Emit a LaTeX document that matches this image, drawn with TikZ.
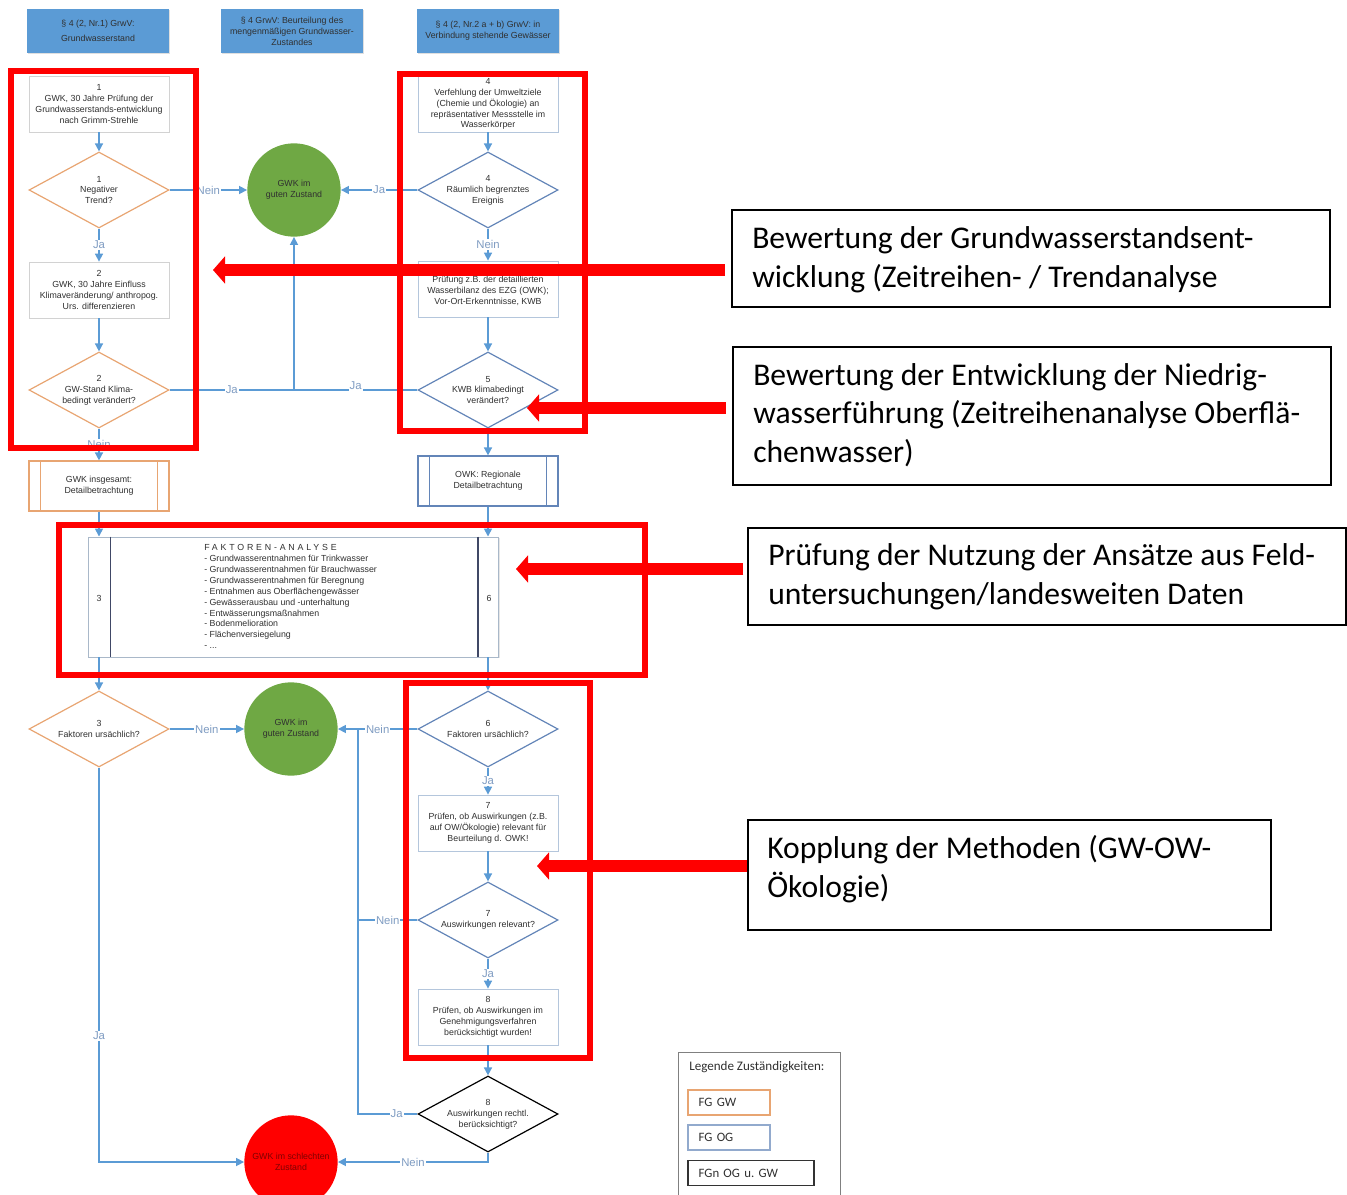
\documentclass[tikz,border=0pt]{standalone}
\usepackage{fontspec}
\setmainfont{Liberation Sans}
\newfontfamily\calibri{Carlito}
\usetikzlibrary{shapes.geometric,arrows.meta,shadows,positioning}

\definecolor{flowblue}{HTML}{5B9BD5}
\definecolor{lblblue}{HTML}{7F9CC2}
\definecolor{hdrblue}{HTML}{5B9BD5}
\definecolor{orangeb}{HTML}{E8A572}
\definecolor{blueb}{HTML}{6385B8}
\definecolor{boxgray}{HTML}{D2D2D2}
\definecolor{boxblue}{HTML}{B4C6DC}
\definecolor{okgreen}{HTML}{6FA844}
\definecolor{txtgray}{HTML}{303030}
\definecolor{navyline}{HTML}{404866}

\newcommand{\fctxt}{\fontsize{6.6}{8.2}\selectfont}

\tikzset{
	txt/.style={font=\fctxt, text=txtgray, align=center},
	procbox/.style={txt, rectangle, draw=#1, line width=0.6pt, fill=white, minimum width=105pt, minimum height=42pt, inner sep=1pt,
		drop shadow={shadow xshift=0.8pt, shadow yshift=-0.8pt, opacity=0.2}},
	decision/.style={txt, diamond, draw=#1, line width=0.9pt, fill=white, aspect=1.84, minimum width=105pt, minimum height=57pt, inner sep=0pt},
	subproc/.style={txt, rectangle, draw=#1, line width=0.9pt, fill=white, minimum width=105pt, minimum height=37.5pt},
	state/.style={txt, circle, fill=#1, minimum size=70pt, inner sep=0pt},
	hdr/.style={txt, rectangle, fill=hdrblue, minimum width=106pt, minimum height=33pt, inner sep=1pt,
		drop shadow={shadow xshift=0.8pt, shadow yshift=-0.8pt, opacity=0.25}},
	flow/.style={draw=flowblue, line width=1.2pt, -{Triangle[width=6pt,length=6pt]}},
	link/.style={draw=flowblue, line width=1.2pt},
	lbl/.style={font=\fontsize{8.5}{10}\selectfont, text=lblblue, fill=white, inner sep=0.8pt},
	redframe/.style={draw=red, line width=3.8pt},
	redarrow/.style={draw=red, line width=9pt, -{Triangle[width=20pt,length=9pt]}},
	callbox/.style={rectangle, draw=black, line width=1.1pt},
	calltxt/.style={font=\calibri\fontsize{23.7}{29}\selectfont, align=left, anchor=west, inner sep=0pt},
	legbox/.style={rectangle, line width=0.9pt, font=\calibri\fontsize{9.6}{11}\selectfont, text=txtgray, align=left, inner xsep=8pt, minimum height=18.75pt}
}

\begin{document}
\begin{tikzpicture}[x=0.75pt,y=-0.75pt]
	\useasboundingbox (0,0) rectangle (1347,1195);

	\node[hdr] (h1) at (98,31) {§ 4 (2, Nr.1) GrwV:\\[3pt]Grundwasserstand};
	\node[hdr] (h2) at (292,31) {§ 4 GrwV: Beurteilung des\\mengenmäßigen Grundwasser-\\Zustandes};
	\node[hdr] (h3) at (488,31) {§ 4 (2, Nr.2 a + b) GrwV: in\\Verbindung stehende Gewässer};

	\node[procbox=boxgray] (b1) at (99,104) {1\\GWK, 30 Jahre Prüfung der\\Grundwasserstands-entwicklung\\nach Grimm-Strehle};
	\node[decision=orangeb] (d1) at (99,190) {1\\Negativer\\Trend?};
	\node[procbox=boxgray] (b2) at (99,290) {2\\GWK, 30 Jahre Einfluss\\Klimaveränderung/ anthropog.\\Urs. differenzieren};
	\node[decision=orangeb] (d2) at (99,390) {2\\GW-Stand Klima-\\bedingt verändert?};
	\node[subproc=orangeb] (b3) at (99,486) {GWK insgesamt:\\Detailbetrachtung};
	\draw[orangeb, line width=0.9pt] ([xshift=9pt]b3.north west) -- ([xshift=9pt]b3.south west)
		([xshift=-9pt]b3.north east) -- ([xshift=-9pt]b3.south east);

	\node[procbox=boxblue] (b4) at (488,104) {4\\Verfehlung der Umweltziele\\(Chemie und Ökologie) an\\repräsentativer Messstelle im\\Wasserkörper};
	\node[decision=blueb] (d4) at (488,190) {4\\Räumlich begrenztes\\Ereignis};
	\node[procbox=boxblue] (b5) at (488,289) {~\\Prüfung z.B. der detaillierten\\Wasserbilanz des EZG (OWK);\\Vor-Ort-Erkenntnisse, KWB};
	\node[decision=blueb] (d5) at (488,390) {5\\KWB klimabedingt\\verändert?};
	\node[subproc=blueb] (b6) at (488,481) {OWK: Regionale\\Detailbetrachtung};
	\draw[blueb, line width=0.9pt] ([xshift=9pt]b6.north west) -- ([xshift=9pt]b6.south west)
		([xshift=-9pt]b6.north east) -- ([xshift=-9pt]b6.south east);

	\node[state=okgreen] (g1) at (294,190) {GWK im\\guten Zustand};
	\coordinate (j1) at (294,390);

	% Faktoren-Analyse
	\node[rectangle, draw=boxblue!80!gray, line width=0.7pt, fill=white, minimum width=308pt, minimum height=90pt,
		drop shadow={shadow xshift=0.8pt, shadow yshift=-0.8pt, opacity=0.2}] (fa) at (293.5,597) {};
	\draw[navyline, line width=0.8pt] ([xshift=17pt]fa.north west) -- ([xshift=17pt]fa.south west)
		([xshift=-16pt]fa.north east) -- ([xshift=-16pt]fa.south east);
	\node[txt] (fa3) at (99,598) {3};
	\node[txt] (fa6) at (489,598) {6};
	\node[txt, align=left, anchor=north west, inner sep=0pt] (falist) at (204,544)
		{{\addfontfeature{LetterSpace=32}FAKTOREN-ANALYSE}\\
		- Grundwasserentnahmen für Trinkwasser\\
		- Grundwasserentnahmen für Brauchwasser\\
		- Grundwasserentnahmen für Beregnung\\
		- Entnahmen aus Oberflächengewässer\\
		- Gewässerausbau und -unterhaltung\\
		- Entwässerungsmaßnahmen\\
		- Bodenmelioration\\
		- Flächenversiegelung\\
		- ...};

	\node[decision=orangeb] (d3) at (99,729) {3\\Faktoren ursächlich?};
	\node[state=okgreen] (g2) at (291,729) {GWK im\\guten Zustand};
	\node[decision=blueb] (d6) at (488,729) {6\\Faktoren ursächlich?};
	\node[procbox=boxblue] (b7) at (488,823) {7\\Prüfen, ob Auswirkungen (z.B.\\auf OW/Ökologie) relevant für\\Beurteilung d. OWK!};
	\node[decision=blueb] (d7) at (488,920) {7\\Auswirkungen relevant?};
	\node[procbox=boxblue] (b8) at (488,1017) {8\\Prüfen, ob Auswirkungen im\\Genehmigungsverfahren\\berücksichtigt wurden!};
	\node[decision=black] (d8) at (488,1114) {8\\Auswirkungen rechtl.\\berücksichtigt?};
	\node[state=red, text=red!50!black] (rc) at (291,1162) {GWK im schlechten\\Zustand};
	\coordinate (k6) at (358,729);
	\coordinate (k7) at (358,920);
	\coordinate (k8) at (358,1114);

	\draw[flow] (b1) -- (d1);
	\draw[flow] (d1) -- node[lbl]{Ja} (b2);
	\draw[flow] (b2) -- (d2);
	\draw[flow] (d2) -- node[lbl]{Nein} (b3);
	\draw[flow] (d1) -- node[lbl]{Nein} (g1);
	\draw[flow] (d4) -- node[lbl]{Ja} (g1);
	\draw[link] (d2) -- node[lbl]{Ja} (j1);
	\draw[link] (d5) -- node[lbl, yshift=3pt]{Ja} (j1);
	\draw[flow] (j1) -- (g1);
	\draw[flow] (b4) -- (d4);
	\draw[flow] (d4) -- node[lbl]{Nein} (b5);
	\draw[flow] (b5) -- (d5);
	\draw[flow] (d5) -- (b6);
	\draw[flow] (b3) -- (b3 |- fa.north);
	\draw[flow] (b6) -- (b6 |- fa.north);
	\draw[flow] (fa.south -| d3) -- (d3);
	\draw[flow] (fa.south -| d6) -- (d6);
	\draw[flow] (d3) -- node[lbl]{Nein} (g2);
	\draw[flow] (d6) -- node[lbl]{Nein} (g2);
	\draw[flow] (d6) -- node[lbl]{Ja} (b7);
	\draw[flow] (b7) -- (d7);
	\draw[flow] (d7) -- node[lbl]{Ja} (b8);
	\draw[flow] (b8) -- (d8);
	\draw[link] (d7) -- node[lbl]{Nein} (k7);
	\draw[link] (d8) -- node[lbl, pos=0.35]{Ja} (k8) -- (k6);
	\draw[flow] (d8) |- node[lbl, pos=0.75]{Nein} (rc);
	\draw[flow] (d3) |- node[lbl, pos=0.34]{Ja} (rc);

	% rote Markierungen
	\draw[redframe] (11,71) rectangle (196,448);
	\draw[redframe] (400,74) rectangle (585,431);
	\draw[redframe] (59,525) rectangle (645,675);
	\draw[redframe] (406,683) rectangle (590,1058);

	\node[callbox, minimum width=448.5pt, minimum height=72.75pt] (c1) at (1031,258.5) {};
	\node[calltxt] (c1t) at (752,260) {Bewertung der Grundwasserstandsent-\\wicklung (Zeitreihen- / Trendanalyse};
	\node[callbox, minimum width=448.5pt, minimum height=103.5pt] (c2) at (1032,416) {};
	\node[calltxt] (c2t) at (753,415) {Bewertung der Entwicklung der Niedrig-\\wasserführung (Zeitreihenanalyse Oberflä-\\chenwasser)};
	\node[callbox, minimum width=448.5pt, minimum height=72.75pt] (c3) at (1047,576.5) {};
	\node[calltxt] (c3t) at (768,577) {Prüfung der Nutzung der Ansätze aus Feld-\\untersuchungen/landesweiten Daten};
	\node[callbox, minimum width=392.25pt, minimum height=82.5pt] (c4) at (1009.5,875) {};
	\node[calltxt] (c4t) at (767,869) {Kopplung der Methoden (GW-OW-\\Ökologie)};

	\coordinate (t1) at (213,270);
	\coordinate (t2) at (527,408);
	\coordinate (t3) at (516,569);
	\coordinate (t4) at (537,866);
	\draw[redarrow] ([xshift=-5pt]c1.west |- t1) -- (t1);
	\draw[redarrow] ([xshift=-5pt]c2.west |- t2) -- (t2);
	\draw[redarrow] ([xshift=-3pt]c3.west |- t3) -- (t3);
	\draw[redarrow] (c4.west |- t4) -- (t4);

	% Legende
	\node[rectangle, draw=gray, line width=0.7pt, minimum width=122pt, minimum height=111pt] (leg) at (759.5,1126) {};
	\node[anchor=west, inner sep=0pt, font=\calibri\fontsize{9.8}{11}\selectfont, text=txtgray] (legt) at (689,1067) {Legende Zuständigkeiten:};
	\node[legbox, draw=orangeb, text width=45.5pt] (lg1) at (729,1102.5) {FG GW};
	\node[legbox, draw=blueb!70, text width=45.5pt] (lg2) at (729,1137.5) {FG OG};
	\node[legbox, draw=black!80, text width=78.5pt] (lg3) at (751,1173) {FGn OG u.\ GW};
\end{tikzpicture}
\end{document}
